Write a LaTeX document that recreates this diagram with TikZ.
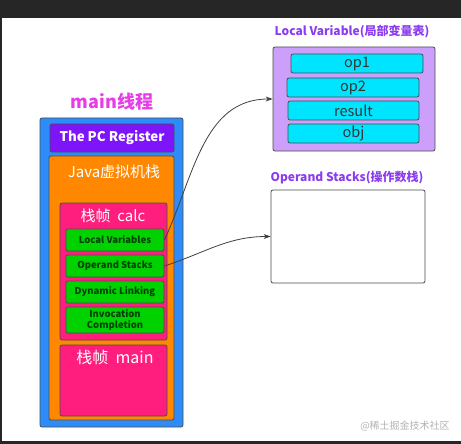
\documentclass[tikz,border=0pt]{standalone}
\usepackage{fontspec}
\setmainfont{Noto Sans CJK SC}
\usetikzlibrary{arrows.meta}
\definecolor{threadblue}{RGB}{45,140,250}
\definecolor{pcpurple}{RGB}{125,20,250}
\definecolor{stackorange}{RGB}{255,136,0}
\definecolor{framepink}{RGB}{255,30,125}
\definecolor{slotgreen}{RGB}{0,210,0}
\definecolor{varcyan}{RGB}{0,229,255}
\definecolor{tablelilac}{RGB}{204,160,250}
\definecolor{titlepurple}{RGB}{140,60,240}
\definecolor{titlemagenta}{RGB}{232,60,232}
\tikzset{
  box/.style = {draw=black!70, line width=0.8pt, rounded corners=2pt, inner sep=0pt},
  slot/.style = {box, fill=slotgreen, minimum width=98pt, text=black!75!green,
    font=\fontsize{9.5}{10.5}\selectfont\bfseries, align=center},
  var/.style = {box, fill=varcyan, text=black!80, font=\fontsize{14.5}{16}\selectfont},
  whitetext/.style = {text=white, font=\fontsize{15}{17}\selectfont}
}
\begin{document}
\begin{tikzpicture}[x=1pt, y=-1pt]
\fill[black!85] (0,0) rectangle (461,444);
\fill[white] (2,18) rectangle (461,441);
\node[titlemagenta, font=\fontsize{18}{20}\selectfont\bfseries] (title) at (112,102) {main线程};
\node[box, fill=threadblue, minimum width=143pt, minimum height=309pt] (thread) at (111.5,272.5) {};
\node[box, fill=pcpurple, minimum width=124pt, minimum height=28pt, text=white,
  font=\fontsize{13.3}{15}\selectfont\bfseries] (pc) at (112,138) {The PC Register};
\node[box, fill=stackorange, minimum width=125pt, minimum height=264pt] (jvm) at (111.5,288) {};
\node[whitetext] (jvmlabel) at (114,172) {Java虚拟机栈};
\node[box, fill=framepink, minimum width=107pt, minimum height=137pt] (calc) at (113.5,271.5) {};
\node[whitetext] (calclabel) at (113,216) {栈帧\ \ calc};
\begin{scope}[every node/.style = {slot}]
\node[minimum height=22pt] (lv) at (115,240) {Local Variables};
\node[minimum height=22pt] (os) at (115,266) {Operand Stacks};
\node[minimum height=22pt] (dl) at (115,292) {Dynamic Linking};
\node[minimum height=26pt] (ic) at (115,320) {Invocation\\Completion};
\end{scope}
\node[box, fill=framepink, minimum width=107pt, minimum height=71pt] (mainframe) at (113.5,380.5) {};
\node[whitetext, font=\fontsize{16}{18}\selectfont] (mainlabel) at (115,357) {栈帧\ \ main};
\node[titlepurple, font=\fontsize{12}{14}\selectfont\bfseries] (lvtitle) at (352,32) {Local Variable(局部变量表)};
\node[box, fill=tablelilac, minimum width=162pt, minimum height=104pt] (locals) at (354,99) {};
\begin{scope}[every node/.style = {var, minimum height=19pt}]
\node[minimum width=132pt] (op1) at (357,63.5) {op1};
\node[minimum width=132pt] (op2) at (353,87.5) {op2};
\node[minimum width=131pt] (result) at (353.5,110.5) {result};
\node[minimum width=131pt] (obj) at (353.5,133.5) {obj};
\end{scope}
\node[titlepurple, font=\fontsize{12}{14}\selectfont\bfseries] (ostitle) at (347,178) {Operand Stacks(操作数栈)};
\node[box, fill=white, minimum width=154pt, minimum height=93pt] (operands) at (348,236.5) {};
\node[gray!60, font=\fontsize{10}{12}\selectfont] (mark) at (405,426) {@稀土掘金技术社区};
\begin{scope}[every edge/.style = {draw, black!75, line width=0.8pt, -{Stealth[length=7pt,width=5pt]}}]
\path (lv.east) edge[out=65, in=180] (locals.west);
\path (os.east) edge[out=18, in=180] (operands.west);
\end{scope}
\end{tikzpicture}
\end{document}
